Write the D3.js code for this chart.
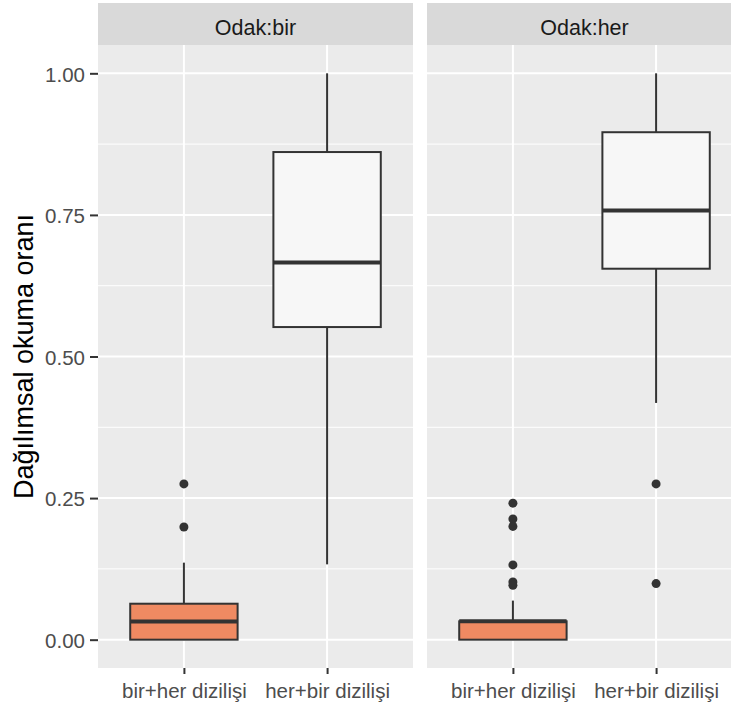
<!DOCTYPE html>
<html>
<head>
<meta charset="utf-8">
<script src="https://cdn.jsdelivr.net/npm/d3@7"></script>
<style>
  body { margin: 0; background: #fff; }
  text { font-family: "Liberation Sans", Arial, sans-serif; }
</style>
</head>
<body>
<svg id="chart" width="731" height="708"></svg>
<script>
// facets and categories
var facets = ["Odak:bir", "Odak:her"];
var categories = ["bir+her dizilişi", "her+bir dizilişi"];
var fills = ["#EF8A62", "#F7F7F7"];

// box summaries per facet: [lowerWhisker, q1, median, q3, upperWhisker]
var birStats = [[0, 0, 0.032, 0.0635, 0.136], [0.133, 0.552, 0.666, 0.861, 1.0]];
var herStats = [[0, 0, 0.0324, 0.0324, 0.069], [0.418, 0.655, 0.758, 0.896, 1.0]];

// outliers per facet and category
var birOutliers = [[0.275, 0.199], []];
var herOutliers = [[0.241, 0.213, 0.200, 0.132, 0.102, 0.096], [0.275, 0.099]];

var yTicks = [0, 0.25, 0.5, 0.75, 1.0];
var yMinor = [0.125, 0.375, 0.625, 0.875];

var svg = d3.select("#chart");

// layout
var panelTop = 45, panelBottom = 668, stripTop = 3;
var panelW = 315;
var panelLeft = [98, 427];

var y = d3.scaleLinear().domain([-0.05, 1.05]).range([panelBottom, panelTop]);

var stats = [birStats, herStats];
var outliers = [birOutliers, herOutliers];

facets.forEach(function(f, fi) {
  var x0 = panelLeft[fi];
  var x = d3.scalePoint().domain(categories).range([x0, x0 + panelW]).padding(0.6);
  var step = panelW / 2.2;
  var g = svg.append("g");

  // panel background
  g.append("rect").attr("x", x0).attr("y", panelTop)
    .attr("width", panelW).attr("height", panelBottom - panelTop)
    .attr("fill", "#EBEBEB");

  // minor grid
  g.selectAll(".minor").data(yMinor).enter().append("line")
    .attr("x1", x0).attr("x2", x0 + panelW)
    .attr("y1", function(d) { return y(d); }).attr("y2", function(d) { return y(d); })
    .attr("stroke", "#fff").attr("stroke-width", 1);

  // major grid
  g.selectAll(".major").data(yTicks).enter().append("line")
    .attr("x1", x0).attr("x2", x0 + panelW)
    .attr("y1", function(d) { return y(d); }).attr("y2", function(d) { return y(d); })
    .attr("stroke", "#fff").attr("stroke-width", 2);
  g.selectAll(".vmajor").data(categories).enter().append("line")
    .attr("x1", function(d) { return x(d); }).attr("x2", function(d) { return x(d); })
    .attr("y1", panelTop).attr("y2", panelBottom)
    .attr("stroke", "#fff").attr("stroke-width", 2);

  // strip
  g.append("rect").attr("x", x0).attr("y", stripTop)
    .attr("width", panelW).attr("height", panelTop - stripTop)
    .attr("fill", "#D9D9D9");
  g.append("text").attr("x", x0 + panelW / 2).attr("y", 34.5)
    .attr("text-anchor", "middle")
    .attr("fill", "#1A1A1A").style("font-size", "21.5px").text(f);

  // boxes
  var bw = step * 0.75;
  categories.forEach(function(c, ci) {
    var s = stats[fi][ci];
    var cx = x(c);
    g.append("line").attr("x1", cx).attr("x2", cx)
      .attr("y1", y(s[4])).attr("y2", y(s[3]))
      .attr("stroke", "#333").attr("stroke-width", 2);
    g.append("line").attr("x1", cx).attr("x2", cx)
      .attr("y1", y(s[1])).attr("y2", y(s[0]))
      .attr("stroke", "#333").attr("stroke-width", 2);
    g.append("rect").attr("x", cx - bw / 2).attr("y", y(s[3]))
      .attr("width", bw).attr("height", y(s[1]) - y(s[3]))
      .attr("fill", fills[ci]).attr("stroke", "#333").attr("stroke-width", 2);
    g.append("line").attr("x1", cx - bw / 2).attr("x2", cx + bw / 2)
      .attr("y1", y(s[2])).attr("y2", y(s[2]))
      .attr("stroke", "#333").attr("stroke-width", 4);
    g.selectAll(".out" + ci).data(outliers[fi][ci]).enter().append("circle")
      .attr("cx", cx).attr("cy", function(d) { return y(d); })
      .attr("r", 4.5).attr("fill", "#333");
  });

  // x axis
  var xAxis = g.append("g").attr("transform", "translate(0," + panelBottom + ")")
    .call(d3.axisBottom(x).tickSize(6).tickPadding(4));
  xAxis.select(".domain").remove();
  xAxis.selectAll("line").attr("stroke", "#333").attr("stroke-width", 2);
  xAxis.selectAll("text").attr("fill", "#4D4D4D").attr("dy", null).attr("y", 30)
    .style("font-size", "20.5px").style("font-family", "Liberation Sans, Arial, sans-serif");
});

// y axis
var yAxis = svg.append("g").attr("transform", "translate(" + panelLeft[0] + ",0)")
  .call(d3.axisLeft(y).tickValues(yTicks).tickFormat(d3.format(".2f")).tickSize(8).tickPadding(5));
yAxis.select(".domain").remove();
yAxis.selectAll("line").attr("stroke", "#333").attr("stroke-width", 2);
yAxis.selectAll("text").attr("fill", "#4D4D4D").attr("dy", "0.38em")
  .style("font-size", "20.5px").style("font-family", "Liberation Sans, Arial, sans-serif");

// y title
svg.append("text")
  .attr("transform", "translate(33," + (panelTop + panelBottom) / 2 + ") rotate(-90)")
  .attr("text-anchor", "middle").attr("fill", "#000")
  .style("font-size", "27px").text("Dağılımsal okuma oranı");
</script>
</body>
</html>
